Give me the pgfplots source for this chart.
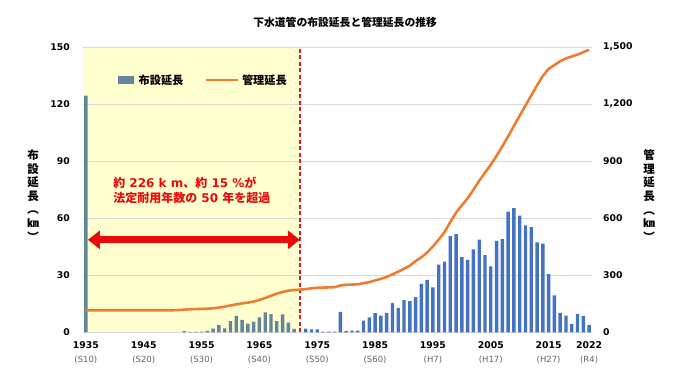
\documentclass[border=0pt]{standalone}
\usepackage{pgfplots}
\pgfplotsset{compat=1.18}
\usepackage{pgfplotstable}
\usepackage{fontspec}
\setmainfont{DejaVu Sans}
\newfontfamily\jp{Noto Sans CJK JP}
\usetikzlibrary{arrows.meta}
\definecolor{barblue}{RGB}{68,114,196}
\definecolor{barslate}{RGB}{98,134,154}
\definecolor{lineorange}{RGB}{237,125,49}
\definecolor{bgyellow}{RGB}{255,255,208}
\definecolor{gridgray}{RGB}{217,217,217}
\definecolor{dashred}{RGB}{215,30,30}
\definecolor{txtred}{RGB}{235,10,10}
\definecolor{subgray}{RGB}{100,100,100}

\pgfplotstableread{
year val
1935 124.4
1952 0.7
1953 0.3
1954 0.3
1955 0.4
1956 0.8
1957 2.1
1958 3.9
1959 2.2
1960 6.0
1961 8.7
1962 6.6
1963 4.6
1964 5.7
1965 8.0
1966 10.6
1967 9.6
1968 6.0
1969 9.5
1970 5.2
1971 1.9
}\earlybars

\pgfplotstableread{
year val
1973 2.1
1974 1.6
1975 1.6
1976 0.5
1977 0.5
1978 0.5
1979 10.9
1980 0.7
1981 1.0
1982 1.0
1983 6.3
1984 7.9
1985 10.2
1986 8.9
1987 10.3
1988 15.4
1989 13.0
1990 17.0
1991 16.5
1992 18.6
1993 25.6
1994 27.7
1995 23.7
1996 35.6
1997 37.2
1998 50.7
1999 51.7
2000 39.6
2001 38.2
2002 43.7
2003 48.8
2004 40.7
2005 34.7
2006 48.2
2007 49.1
2008 63.5
2009 65.3
2010 61.4
2011 56.3
2012 55.3
2013 47.4
2014 46.7
2015 30.7
2016 19.5
2017 10.3
2018 8.9
2019 4.4
2020 9.8
2021 8.6
2022 4.0
}\latebars

\pgfplotstableread{
year val
1935 117
1940 117
1945 117
1950 117
1951 118
1952 120
1953 122
1954 123
1955 124
1956 125
1957 127
1958 131
1959 136
1960 142
1961 148
1962 153
1963 157
1964 162
1965 171
1966 181
1967 193
1968 204
1969 213
1970 220
1971 223
1972 225
1973 228
1974 232
1975 235
1976 236
1977 237
1978 238
1979 247
1980 251
1981 252
1982 253
1983 259
1984 265
1985 273
1986 282
1987 292
1988 305
1989 320
1990 335
1991 351
1992 375
1993 395
1994 420
1995 452
1996 488
1997 528
1998 580
1999 630
2000 668
2001 705
2002 750
2003 797
2004 840
2005 882
2006 928
2007 978
2008 1030
2009 1085
2010 1140
2011 1192
2012 1245
2013 1298
2014 1348
2015 1385
2016 1405
2017 1425
2018 1440
2019 1450
2020 1460
2021 1473
2022 1485
}\kanri

\newcommand{\yr}[2]{\textbf{#1}\\[1.8pt]{\fontsize{8.5}{12}\selectfont\color{subgray}#2}}

\begin{document}
\begin{tikzpicture}
\path (0pt,0pt) rectangle (690pt,388pt);
\pgfplotsset{
  set layers,
  common/.style={
    scale only axis, width=509pt, height=285.5pt,
    at={(83pt,55.5pt)}, anchor=south west,
    xmin=1934.5, xmax=2022.5,
    axis line style={draw=none},
    major tick length=0pt,
    /pgf/number format/assume math mode=true,
  },
}
\begin{axis}[common,
  ymin=0, ymax=150, ytick={0,30,60,90,120,150},
  ymajorgrids, grid style={gridgray, line width=0.9pt},
  ytick pos=left, xtick pos=bottom,
  xtick={1935,1945,1955,1965,1975,1985,1995,2005,2015,2022},
  xticklabels={{\yr{1935}{(S10)}},{\yr{1945}{(S20)}},{\yr{1955}{(S30)}},{\yr{1965}{(S40)}},{\yr{1975}{(S50)}},{\yr{1985}{(S60)}},{\yr{1995}{(H7)}},{\yr{2005}{(H17)}},{\yr{2015}{(H27)}},{\yr{2022}{(R4)}}},
  xticklabel style={align=center, inner sep=0pt, yshift=-9pt, font=\fontsize{9.3}{12}\selectfont},
  yticklabel style={font=\bfseries\fontsize{9.3}{10}\selectfont, inner sep=0pt, xshift=-13pt},
  ylabel={布\\設\\延\\長\\︵\\㎞\\︶},
  every axis y label/.style={at={(axis description cs:-0.098,0.48)}, anchor=center, align=center, font=\jp\bfseries\fontsize{11.5}{13.6}\selectfont},
  title={下水道管の布設延長と管理延長の推移},
  title style={at={(axis description cs:0.515,1.0665)}, anchor=center, font=\jp\bfseries\fontsize{10.8}{12}\selectfont},
]
\begin{pgfonlayer}{axis background}
\fill[bgyellow] (axis cs:1934.5,0) rectangle (axis cs:1972,150);
\end{pgfonlayer}
\addplot[ybar, bar shift=0pt, bar width=3.4pt, fill=barslate, draw=none] table[x=year,y=val] {\earlybars};
\addplot[ybar, bar shift=0pt, bar width=3.4pt, fill=barblue, draw=none] table[x=year,y=val] {\latebars};
\draw[dashred, line width=1.3pt, dash pattern=on 4pt off 2.5pt] (axis cs:1972,0) -- (axis cs:1972,150);
\draw[txtred, line width=7pt, {Triangle[length=12pt,width=18pt]}-{Triangle[length=12pt,width=18pt]}] (axis cs:1935.35,48.7) -- (axis cs:1972,48.7);
\node[anchor=west, align=left, text=txtred, inner sep=0pt, font=\bfseries\fontsize{12}{15}\selectfont] at (axis cs:1939.7,74.7) {{\jp 約} 226 k m{\jp 、約} 15 \%{\jp が}\\{\jp 法定耐用年数の} 50 {\jp 年を超過}};
\end{axis}
\begin{axis}[common,
  ymin=0, ymax=1500, ytick={0,300,600,900,1200,1500},
  axis y line*=right, hide x axis,
  yticklabel style={font=\bfseries\fontsize{9.3}{10}\selectfont, inner sep=0pt, xshift=11pt, /pgf/number format/1000 sep={,}},
  ylabel={管\\理\\延\\長\\︵\\㎞\\︶},
  every axis y label/.style={at={(axis description cs:1.112,0.48)}, anchor=center, align=center, font=\jp\bfseries\fontsize{11.5}{13.6}\selectfont},
  legend columns=2,
  legend style={draw=none, fill=none, at={(axis description cs:0.0688,0.8844)}, anchor=west, inner sep=0pt,
    font=\jp\bfseries\fontsize{11.2}{12}\selectfont,
    /tikz/every even column/.append style={column sep=19pt}},
]
\addlegendimage{legend image code/.code={\fill[barslate] (0pt,-3.5pt) rectangle (15pt,3.5pt); \path (18pt,0pt);}}
\addlegendentry{布設延長}
\addplot[lineorange, line width=2.6pt, line join=round, legend image code/.code={\draw[lineorange, line width=2.6pt] (0pt,0pt) -- (32pt,0pt); \path (33pt,0pt);}] table[x=year,y=val] {\kanri};
\addlegendentry{管理延長}
\end{axis}
\end{tikzpicture}
\end{document}
